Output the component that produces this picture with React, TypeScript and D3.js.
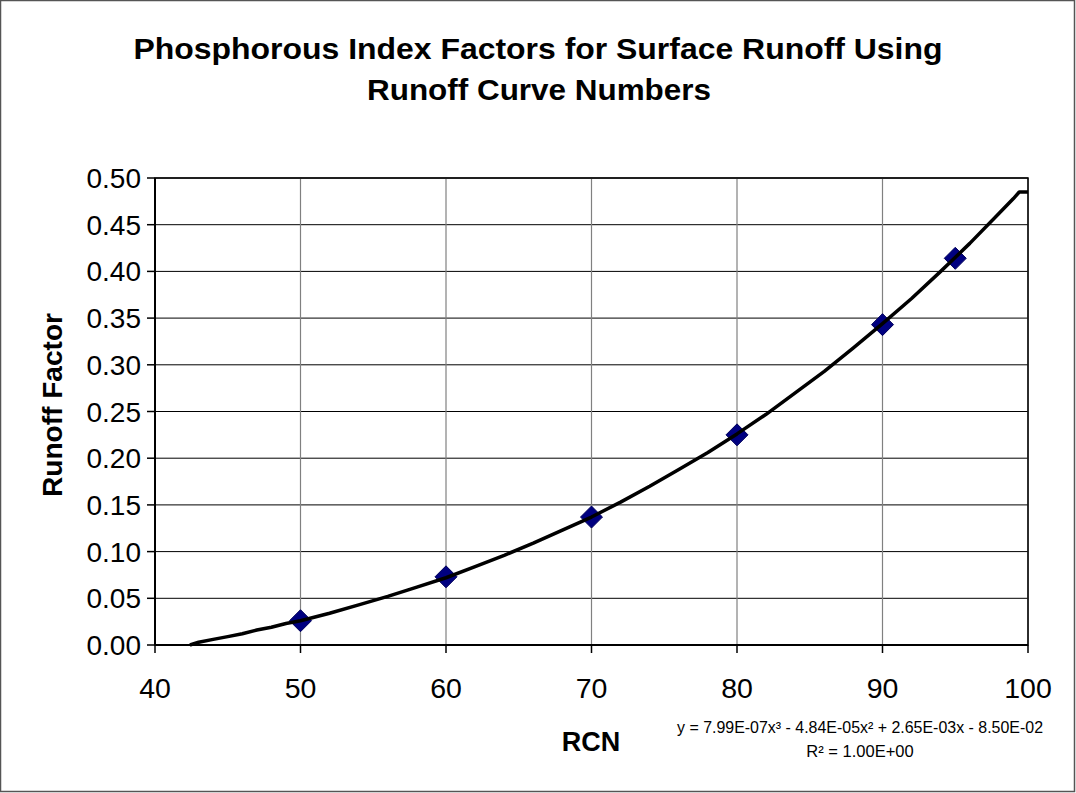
import React from "react";
import * as d3 from "d3";

// measured points (diamond markers)
const rcnPoints = [50, 60, 70, 80, 90, 95];
const factorPoints = [0.026, 0.073, 0.137, 0.225, 0.343, 0.414];

// fitted curve
const curveRcn = [42.4, 43, 44, 45, 46, 47, 48, 49, 50, 52, 54, 56, 58, 60, 62, 64, 66, 68, 70, 72, 74, 76, 78, 80, 82, 84, 86, 88, 90, 92, 94, 96, 98, 99, 99.4, 100];
const curveFactor = [0.0, 0.003, 0.006, 0.009, 0.012, 0.016, 0.019, 0.023, 0.026, 0.034, 0.043, 0.052, 0.062, 0.072, 0.084, 0.096, 0.109, 0.123, 0.137, 0.153, 0.17, 0.188, 0.206, 0.226, 0.247, 0.27, 0.293, 0.318, 0.344, 0.371, 0.4, 0.43, 0.462, 0.478, 0.485, 0.485];

const xTicks = [40, 50, 60, 70, 80, 90, 100];
const yTicks = [0, 0.05, 0.1, 0.15, 0.2, 0.25, 0.3, 0.35, 0.4, 0.45, 0.5];

const W = 1076;
const H = 793;
const left = 155;
const right = 1028;
const top = 178;
const bottom = 645;
const font = "'Liberation Sans', Arial, sans-serif";

export default function App() {
  const x = d3.scaleLinear().domain([40, 100]).range([left, right]);
  const y = d3.scaleLinear().domain([0, 0.5]).range([bottom, top]);

  const line = d3
    .line<number>()
    .x((d, i) => x(curveRcn[i]))
    .y((d) => y(d));

  return (
    <svg
      width={W}
      height={H}
      style={{ position: "absolute", left: 0, top: 0, fontFamily: font }}
    >
      <rect x={0.5} y={0.5} width={W - 2} height={H - 2} fill="#fff" stroke="#555" strokeWidth={1.5} />

      <text x={538} y={59} textAnchor="middle" fontSize={29} fontWeight="bold" textLength={809} lengthAdjust="spacingAndGlyphs">
        Phosphorous Index Factors for Surface Runoff Using
      </text>
      <text x={539} y={100} textAnchor="middle" fontSize={29} fontWeight="bold" textLength={344} lengthAdjust="spacingAndGlyphs">
        Runoff Curve Numbers
      </text>

      {/* grid */}
      {yTicks.map((t) => (
        <line key={"gy" + t} x1={left} x2={right} y1={y(t)} y2={y(t)} stroke="#000" strokeWidth={1} />
      ))}
      {xTicks.map((t) => (
        <line key={"gx" + t} x1={x(t)} x2={x(t)} y1={top} y2={bottom} stroke="#808080" strokeWidth={1.2} />
      ))}
      <rect x={left} y={top} width={right - left} height={bottom - top} fill="none" stroke="#000" strokeWidth={1.5} />
      <line x1={left} x2={left} y1={top} y2={bottom} stroke="#000" strokeWidth={2} />
      <line x1={left} x2={right} y1={bottom} y2={bottom} stroke="#000" strokeWidth={2} />

      {/* ticks */}
      {yTicks.map((t) => (
        <g key={"ty" + t}>
          <line x1={left - 8} x2={left} y1={y(t)} y2={y(t)} stroke="#000" strokeWidth={1.5} />
          <text x={141} y={y(t) + 10} textAnchor="end" fontSize={28}>
            {t.toFixed(2)}
          </text>
        </g>
      ))}
      {xTicks.map((t) => (
        <g key={"tx" + t}>
          <line x1={x(t)} x2={x(t)} y1={bottom} y2={bottom + 8} stroke="#000" strokeWidth={1.5} />
          <text x={x(t)} y={698} textAnchor="middle" fontSize={28.5}>
            {t}
          </text>
        </g>
      ))}

      {/* markers */}
      {rcnPoints.map((r, i) => {
        const cx = x(r);
        const cy = y(factorPoints[i]);
        const s = 11;
        return (
          <path
            key={"m" + r}
            d={`M${cx},${cy - s}L${cx + s},${cy}L${cx},${cy + s}L${cx - s},${cy}Z`}
            fill="#000080"
            stroke="#00005a"
            strokeWidth={1}
          />
        );
      })}

      <path d={line(curveFactor) || ""} fill="none" stroke="#000" strokeWidth={3.5} strokeLinejoin="round" />

      <text
        transform={`translate(62,405) rotate(-90)`}
        textAnchor="middle"
        fontSize={27}
        fontWeight="bold"
        textLength={184}
        lengthAdjust="spacingAndGlyphs"
      >
        Runoff Factor
      </text>
      <text x={591} y={751} textAnchor="middle" fontSize={27} fontWeight="bold">
        RCN
      </text>

      <text x={860} y={733} textAnchor="middle" fontSize={16.5} textLength={366} lengthAdjust="spacingAndGlyphs">
        y = 7.99E-07x³ - 4.84E-05x² + 2.65E-03x - 8.50E-02
      </text>
      <text x={860} y={757} textAnchor="middle" fontSize={16.5}>
        R² = 1.00E+00
      </text>
    </svg>
  );
}
